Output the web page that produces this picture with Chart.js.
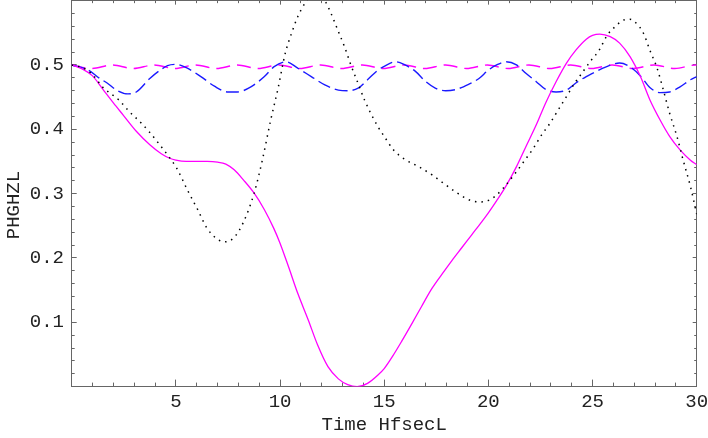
<!DOCTYPE html>
<html>
<head>
<meta charset="utf-8">
<script src="https://cdn.jsdelivr.net/npm/chart.js@4/dist/chart.umd.min.js"></script>
<style>
  body { margin: 0; background: #fff; }
  canvas { display: block; }
</style>
</head>
<body>
<canvas id="plot" width="708" height="438"></canvas>
<script>
// ---- data ----
// black dotted curve
const timeDotted = [0, 0.5, 1.0, 1.5, 1.85, 2.25, 2.75, 3.3, 3.75, 4.2, 4.65, 5.05, 5.55, 6.05, 6.5, 7.0, 7.35, 7.8, 8.25, 8.75, 9.15, 9.55, 9.9, 10.25, 10.55, 10.85, 11.2, 11.65, 12.15, 12.45, 12.8, 13.1, 13.4, 13.75, 14.05, 14.4, 14.7, 15.0, 15.45, 16.0, 16.65, 17.3, 17.85, 18.5, 19.1, 19.6, 20.05, 20.4, 20.7, 21.3, 21.75, 22.15, 22.55, 22.95, 23.35, 23.75, 24.15, 24.55, 24.95, 25.3, 25.7, 26.1, 26.5, 26.8, 27.1, 27.45, 27.75, 28.1, 28.4, 28.7, 29.05, 29.35, 29.7, 30.0];
const valDotted = [0.5, 0.496, 0.485, 0.465, 0.456, 0.446, 0.428, 0.411, 0.395, 0.377, 0.358, 0.339, 0.306, 0.275, 0.246, 0.229, 0.225, 0.232, 0.256, 0.300, 0.352, 0.414, 0.463, 0.518, 0.549, 0.575, 0.596, 0.612, 0.600, 0.580, 0.552, 0.528, 0.500, 0.471, 0.446, 0.422, 0.404, 0.389, 0.368, 0.353, 0.342, 0.329, 0.316, 0.301, 0.290, 0.287, 0.290, 0.298, 0.308, 0.332, 0.352, 0.370, 0.391, 0.409, 0.430, 0.451, 0.472, 0.490, 0.508, 0.522, 0.546, 0.560, 0.570, 0.571, 0.565, 0.549, 0.523, 0.495, 0.461, 0.425, 0.389, 0.352, 0.311, 0.268];
// magenta solid curve
const timeSolid = [0, 0.5, 1.0, 1.5, 2.0, 2.5, 3.1, 3.75, 4.3, 4.7, 5.0, 5.5, 6.0, 6.5, 7.0, 7.4, 7.8, 8.25, 8.75, 9.25, 9.7, 10.0, 10.4, 10.85, 11.35, 11.8, 12.3, 12.8, 13.25, 13.7, 14.2, 14.7, 15.0, 15.4, 15.85, 16.35, 16.8, 17.3, 17.8, 18.25, 18.75, 19.2, 19.7, 20.0, 20.4, 20.85, 21.35, 21.8, 22.3, 22.75, 23.25, 23.75, 24.2, 24.7, 25.0, 25.35, 25.85, 26.3, 26.8, 27.3, 27.75, 28.25, 28.7, 29.2, 29.7, 30.0];
const valSolid = [0.5, 0.494, 0.483, 0.462, 0.441, 0.421, 0.397, 0.376, 0.362, 0.355, 0.352, 0.350, 0.350, 0.350, 0.349, 0.346, 0.337, 0.321, 0.301, 0.275, 0.246, 0.223, 0.187, 0.145, 0.104, 0.065, 0.031, 0.012, 0.003, 0.0, 0.005, 0.018, 0.028, 0.047, 0.071, 0.099, 0.125, 0.153, 0.176, 0.196, 0.217, 0.236, 0.257, 0.270, 0.289, 0.312, 0.342, 0.373, 0.407, 0.441, 0.474, 0.503, 0.523, 0.540, 0.546, 0.548, 0.544, 0.534, 0.513, 0.482, 0.446, 0.414, 0.389, 0.368, 0.352, 0.345];
// blue long-dashed curve
const timeBlue = [0, 0.8, 1.35, 1.7, 2.15, 2.7, 3.1, 3.75, 4.25, 4.6, 5.0, 5.55, 6.2, 6.85, 7.5, 7.95, 8.6, 9.25, 9.7, 10.3, 10.85, 11.5, 12.15, 12.8, 13.25, 13.75, 14.2, 14.7, 15.0, 15.55, 16.0, 16.5, 17.0, 17.45, 17.95, 18.45, 19.05, 19.55, 20.0, 20.4, 20.85, 21.35, 21.8, 22.3, 22.75, 23.25, 23.75, 24.2, 24.7, 25.0, 25.5, 26.3, 26.8, 27.3, 27.75, 28.25, 28.7, 29.2, 29.7, 30.0];
const valBlue = [0.5, 0.492, 0.479, 0.472, 0.461, 0.455, 0.458, 0.479, 0.492, 0.499, 0.501, 0.495, 0.482, 0.467, 0.458, 0.458, 0.466, 0.482, 0.497, 0.505, 0.495, 0.482, 0.469, 0.461, 0.460, 0.464, 0.477, 0.492, 0.498, 0.505, 0.500, 0.490, 0.474, 0.464, 0.460, 0.462, 0.470, 0.479, 0.492, 0.500, 0.505, 0.500, 0.487, 0.474, 0.462, 0.458, 0.461, 0.472, 0.482, 0.487, 0.495, 0.503, 0.497, 0.483, 0.465, 0.457, 0.458, 0.466, 0.477, 0.482];
// magenta short-dashed curve (small ripple near 0.5)
const timeRipple = [0, 0.95, 1.95, 2.95, 3.95, 4.95, 5.95, 6.95, 7.95, 8.95, 9.95, 10.95, 11.95, 12.95, 13.95, 14.95, 15.95, 16.95, 17.95, 18.95, 19.95, 20.95, 21.95, 22.95, 23.95, 24.95, 25.95, 26.95, 27.95, 28.95, 29.95, 30];
const valRipple = [0.5, 0.4945, 0.5, 0.4945, 0.5, 0.4945, 0.5, 0.4945, 0.5, 0.4945, 0.5, 0.4945, 0.5, 0.4945, 0.5, 0.4945, 0.5, 0.4945, 0.5, 0.4945, 0.5, 0.4945, 0.5, 0.4945, 0.5, 0.4945, 0.5, 0.4945, 0.5, 0.4945, 0.5, 0.5];

const xMajorStep = 5, xMinorStep = 1;
const yMajorStep = 0.1, yMinorStep = 0.02;

// ---- helpers ----
const axisGray = "#666";
const font = { family: "'Liberation Mono', 'DejaVu Sans Mono', monospace", size: 19 };

function pts(ts, vs) {
  return ts.map((t, i) => ({ x: t, y: vs[i] }));
}

function line(ts, vs, color, width, dash) {
  return {
    data: pts(ts, vs),
    borderColor: color,
    borderWidth: width,
    borderDash: dash,
    pointRadius: 0,
    fill: false,
    cubicInterpolationMode: "monotone",
  };
}

// kill the label overhang padding so the plot box stays where the layout padding puts it
function noPad(s) {
  s.paddingTop = 0;
  s.paddingBottom = 0;
  s.paddingLeft = 0;
  s.paddingRight = 0;
}

// unlabeled tick-only axis (frame sides and minor ticks)
function tickAxis(position, min, max, step, len, border) {
  return {
    type: "linear",
    position: position,
    min: min,
    max: max,
    weight: 0,
    ticks: { display: false, stepSize: step, maxTicksLimit: 200 },
    grid: { drawOnChartArea: false, tickLength: -len, color: axisGray, lineWidth: 1 },
    border: { display: border, color: axisGray, width: 1 },
    afterFit: (s) => {
      if (s.isHorizontal()) s.height = 0;
      else s.width = 0;
      noPad(s);
    },
  };
}

const scales = {
  x: {
    type: "linear",
    position: "bottom",
    min: 0,
    max: 30,
    weight: 1,
    ticks: {
      stepSize: xMajorStep,
      maxRotation: 0,
      padding: 10.7,
      color: "#222",
      font: font,
      callback: (v) => (v > 0 ? String(v) : ""),
    },
    grid: { drawOnChartArea: false, tickLength: -7, color: axisGray },
    border: { color: axisGray, width: 1 },
    title: { display: true, text: "Time HfsecL", color: "#222", font: font, padding: { top: 0, bottom: 1.6 } },
    afterFit: (s) => { s.height = 51.4; noPad(s); },
  },
  xMinor: tickAxis("bottom", 0, 30, xMinorStep, 4, false),
  xTop: tickAxis("top", 0, 30, xMajorStep, 4, true),
  xTopMinor: tickAxis("top", 0, 30, xMinorStep, 2.5, false),
  y: {
    type: "linear",
    position: "left",
    min: 0,
    max: 0.6,
    weight: 1,
    ticks: {
      stepSize: yMajorStep,
      padding: 12.7,
      color: "#222",
      font: font,
      callback: (v) => (v > 0.05 && v < 0.55 ? v.toFixed(1) : ""),
    },
    grid: { drawOnChartArea: false, tickLength: -5, color: axisGray },
    border: { color: axisGray, width: 1 },
    title: { display: true, text: "PHGHZL  ", color: "#222", font: font, padding: { top: 2.6, bottom: 0 } },
    afterFit: (s) => { s.width = 71.7; noPad(s); },
  },
  yMinor: tickAxis("left", 0, 0.6, yMinorStep, 3, false),
  yRight: tickAxis("right", 0, 0.6, yMajorStep, 4, true),
  yRightMinor: tickAxis("right", 0, 0.6, yMinorStep, 2.5, false),
};

const config = {
  type: "line",
  data: {
    datasets: [
      line(timeDotted, valDotted, "#000000", 1.5, [1.5, 5]),
      line(timeSolid, valSolid, "#ff00ff", 1.3, []),
      line(timeBlue, valBlue, "#1a1aff", 1.4, [13, 5]),
      line(timeRipple, valRipple, "#ff00ff", 1.4, [14, 7]),
    ],
  },
  options: {
    responsive: false,
    animation: false,
    devicePixelRatio: 1,
    layout: { padding: { left: 0, right: 11.3, top: 0.65, bottom: 0 } },
    plugins: {
      legend: { display: false },
      tooltip: { enabled: false },
    },
    scales: scales,
  },
};

new Chart(document.getElementById("plot"), config);
</script>
</body>
</html>
